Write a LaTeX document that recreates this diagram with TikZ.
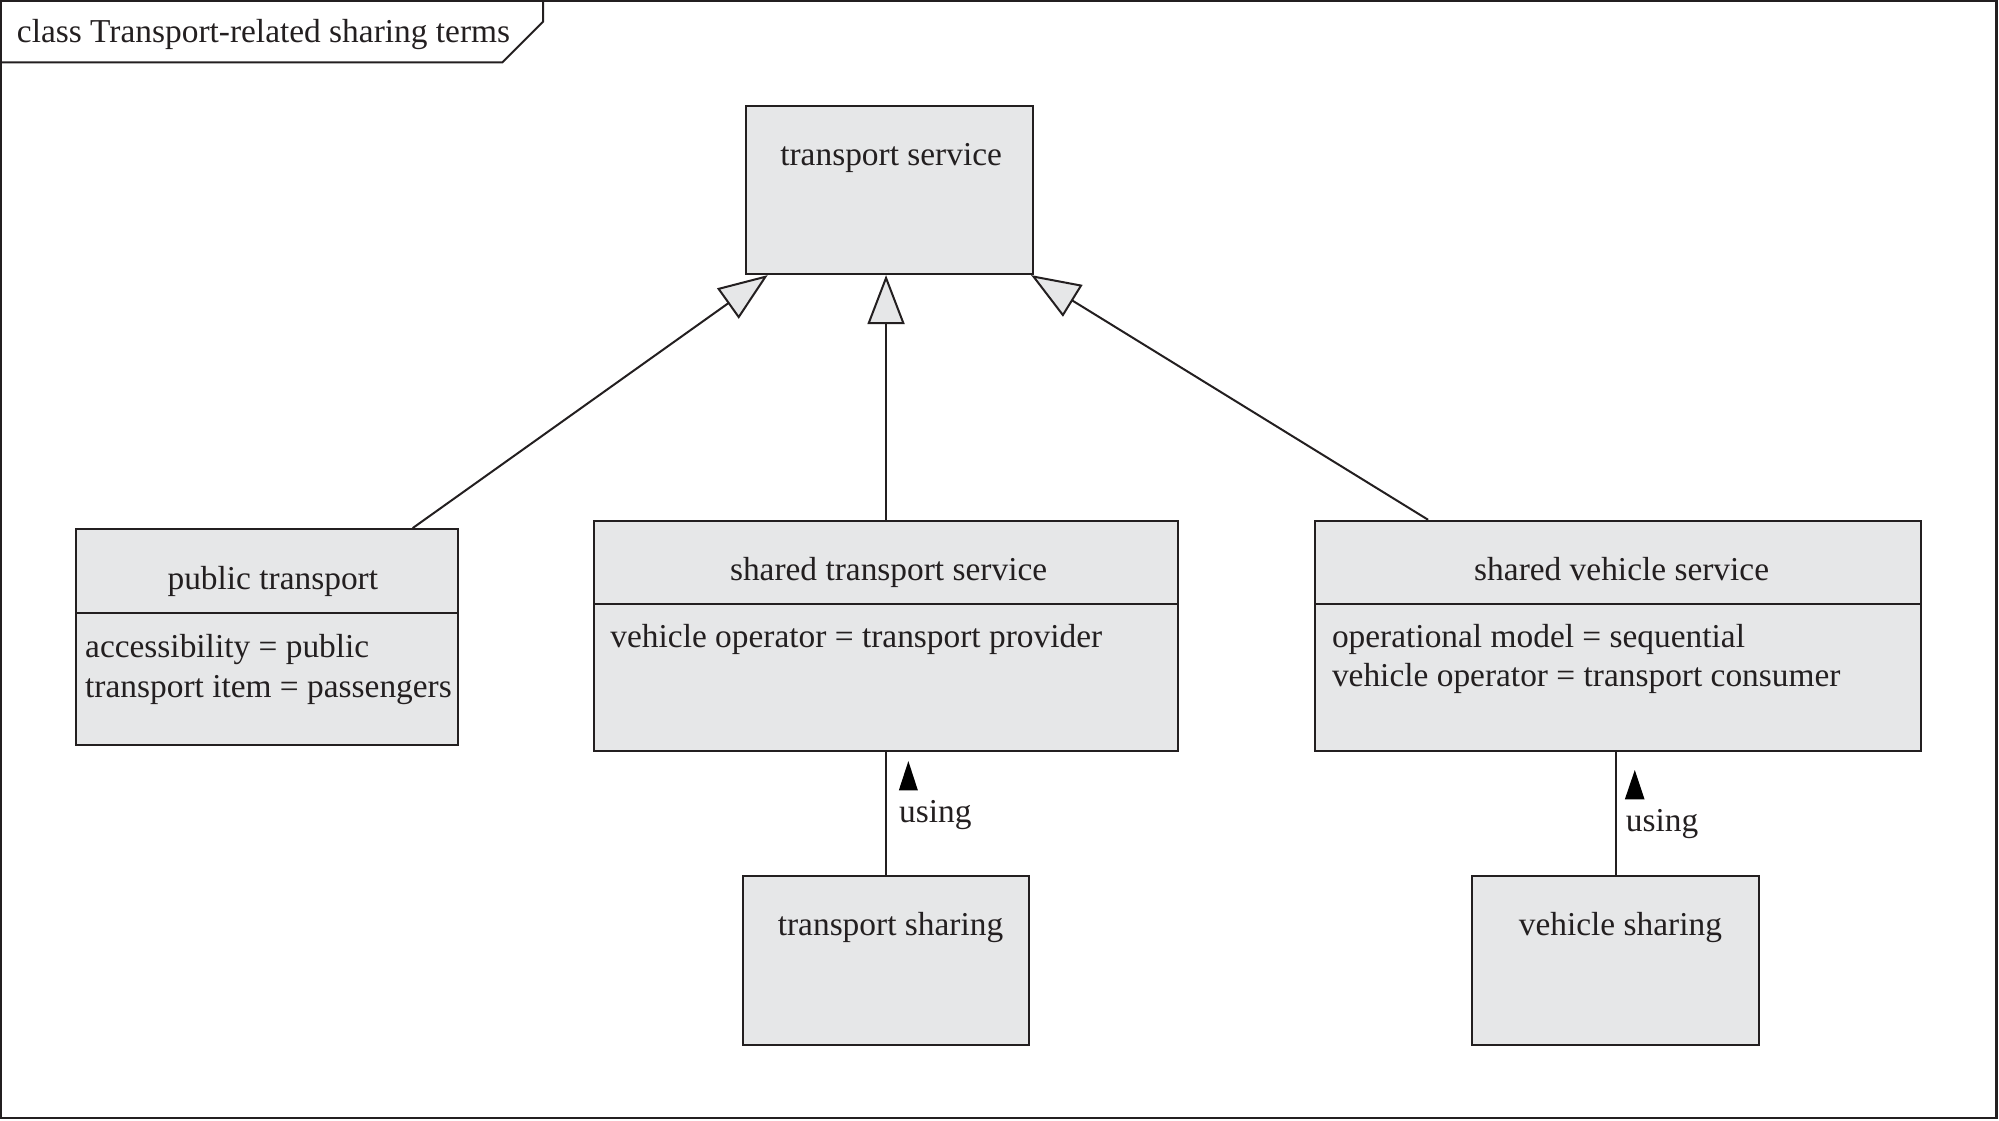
\documentclass[tikz,border=0pt]{standalone}
\usepackage{fontspec}
\setmainfont{Liberation Serif}
\usetikzlibrary{arrows.meta,calc,fit}
\definecolor{boxfill}{RGB}{230,231,232}
\definecolor{ink}{RGB}{35,31,32}
\begin{document}
\begin{tikzpicture}[x=0.6375pt,y=-0.6375pt,
  umlbox/.style={draw=ink,fill=boxfill,line width=1pt,inner sep=0pt},
  lbl/.style={font=\fontsize{16.7}{20}\selectfont,text=ink,inner sep=0pt,anchor=base},
  lbll/.style={lbl,anchor=base west},
  divider/.style={draw=ink,line width=1pt},
  gen/.style={draw=ink,line width=1pt,-{Triangle[open,length=24.5pt,width=18.5pt,fill=boxfill,line width=1pt]}},
  assoc/.style={draw=ink,line width=1pt}]
\useasboundingbox (0,0) rectangle (1568,879);
% frame
\draw[ink,line width=1.2pt] (1,1) rectangle (1566,877);
\draw[ink,line width=1pt] (1,49) -- (394,49) -- (426,17) -- (426,1);
\node[lbll] (title) at (13,33) {class Transport-related sharing terms};

% boxes
\node[umlbox, fit={(585,83) (810,215)}] (ts) {};
\node[lbl] (tsT) at (699,130) {transport service};

\node[umlbox, fit={(60,415) (359,584)}] (pt) {};
\draw[divider] (pt.west |- 0,480.5) -- (pt.east |- 0,480.5);
\node[lbl] (ptT) at (214,462.5) {public transport};
\node[lbll] (ptA) at (66.5,516) {accessibility = public};
\node[lbll] (ptB) at (66.5,547) {transport item = passengers};

\node[umlbox, fit={(466,408.5) (924,589)}] (sts) {};
\draw[divider] (sts.west |- 0,473.8) -- (sts.east |- 0,473.8);
\node[lbl] (stsT) at (697,455) {shared transport service};
\node[lbll] (stsA) at (478.5,508) {vehicle operator = transport provider};

\node[umlbox, fit={(1031.5,408.5) (1506.5,589)}] (svs) {};
\draw[divider] (svs.west |- 0,473.8) -- (svs.east |- 0,473.8);
\node[lbl] (svsT) at (1272,455) {shared vehicle service};
\node[lbll] (svsA) at (1044.5,508) {operational model = sequential};
\node[lbll] (svsB) at (1044.5,538.5) {vehicle operator = transport consumer};

\node[umlbox, fit={(583,687) (807,820)}] (tsh) {};
\node[lbl] (tshT) at (698.5,734) {transport sharing};

\node[umlbox, fit={(1155,687) (1380,820)}] (vsh) {};
\node[lbl] (vshT) at (1271,734) {vehicle sharing};

% generalizations
\draw[gen] ($(pt.north west)+(264.5,0)$) -- ($(ts.south west)+(18,0)$);
\draw[gen] (sts.north) -- (sts.north |- ts.south);
\draw[gen] ($(svs.north west)+(89.5,0)$) -- ($(ts.south east)+(-2,0)$);

% associations
\draw[assoc] (sts.south) -- (tsh.north);
\draw[assoc] (vsh.north) -- (vsh.north |- svs.south);
\fill[black] (705,620) -- (720,620) -- (712.5,597) -- cycle;
\fill[black] (1274.5,627) -- (1290,627) -- (1282.3,604) -- cycle;
\node[lbll] (u1) at (705,645.5) {using};
\node[lbll] (u2) at (1275,652.5) {using};
\end{tikzpicture}
\end{document}
